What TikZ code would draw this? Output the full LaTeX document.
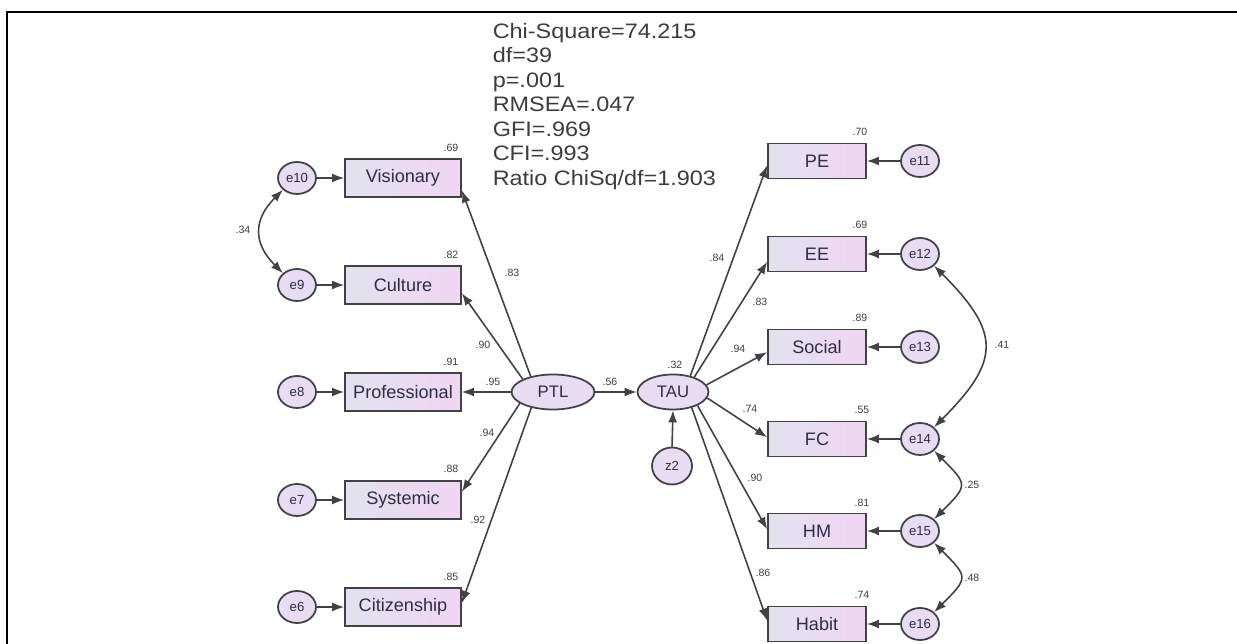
\documentclass[tikz,border=0pt]{standalone}
\usepackage{fontspec}
\setmainfont{Liberation Sans}
\usetikzlibrary{arrows.meta,positioning,shapes.geometric}
\definecolor{linegray}{RGB}{65,65,70}
\definecolor{boxleft}{RGB}{226,226,238}
\definecolor{boxright}{RGB}{240,214,242}
\definecolor{ovalfill}{RGB}{232,220,242}
\definecolor{txtdark}{RGB}{45,45,70}
\definecolor{statgray}{RGB}{60,60,60}
\newcommand\Tiny{\fontsize{6}{7}\selectfont}

\begin{document}
\begin{tikzpicture}[x=0.02cm,y=0.02cm,>={Latex[length=2.4mm,width=1.8mm]},line width=0.9pt,color=linegray]%
\useasboundingbox (0,0) rectangle (1237,-644);
\draw[black,line width=1.2pt] (7,-644)--(7,-12)--(1237,-12);
% observed variables, left
\begin{scope}[shape=rectangle]%
\tikzstyle{every node}=[draw,line width=1pt,left color=boxleft,right color=boxright,text=txtdark,minimum width=2.32cm,minimum height=0.76cm,font=\fontsize{10.3}{12}\selectfont] %%
\node (vis) at (403,-178)  {Visionary}; %%
\node (cul) at (403,-285)  {Culture}; %%
\node (pro) at (403,-392)  {Professional}; %%
\node (sys) at (403,-500)  {Systemic}; %%
\node (cit) at (403,-607)  {Citizenship}; %%
\end{scope}
% observed variables, right
\begin{scope}[shape=rectangle]%
\tikzstyle{every node}=[draw,line width=1pt,left color=boxleft,right color=boxright,text=txtdark,minimum width=1.96cm,minimum height=0.70cm,font=\fontsize{10.3}{12}\selectfont] %%
\node (pe) at (817,-161)  {PE}; %%
\node (ee) at (817,-254)  {EE}; %%
\node (soc) at (817,-347)  {Social}; %%
\node (fc) at (817,-439)  {FC}; %%
\node (hm) at (817,-531)  {HM}; %%
\node (hab) at (817,-624)  {Habit}; %%
\end{scope}
% error terms
\begin{scope}[shape=ellipse]%
\tikzstyle{every node}=[draw,line width=1pt,fill=ovalfill,text=txtdark,inner sep=0pt,minimum width=0.76cm,minimum height=0.64cm,font=\fontsize{7.5}{8}\selectfont] %%
\node (e10) at (297,-178)  {e10}; %%
\node (e9) at (297,-285)  {e9}; %%
\node (e8) at (297,-392)  {e8}; %%
\node (e7) at (297,-500)  {e7}; %%
\node (e6) at (297,-607)  {e6}; %%
\node (e11) at (920,-161)  {e11}; %%
\node (e12) at (920,-254)  {e12}; %%
\node (e13) at (920,-347)  {e13}; %%
\node (e14) at (920,-439)  {e14}; %%
\node (e15) at (920,-531)  {e15}; %%
\node (e16) at (920,-624)  {e16}; %%
\node[minimum width=0.80cm,minimum height=0.74cm] (z2) at (672,-466)  {z2}; %%
\end{scope}
% latent variables
\begin{scope}[shape=ellipse]%
\tikzstyle{every node}=[draw,line width=1pt,fill=ovalfill,text=txtdark,inner sep=0pt,minimum height=0.70cm,font=\fontsize{9.5}{10}\selectfont] %%
\node[minimum width=1.66cm] (PTL) at (553,-392)  {PTL}; %%
\node[minimum width=1.42cm] (TAU) at (673,-392)  {TAU}; %%
\end{scope}
% fit indices
\node[anchor=north west,inner sep=0pt,text=statgray,font=\fontsize{11.9}{14}\selectfont] (fit) at (492,-20) {\scalebox{1.12}[1]{\begin{tabular}{@{}l@{}}Chi-Square=74.215\\df=39\\p=.001\\RMSEA=.047\\GFI=.969\\CFI=.993\\Ratio ChiSq/df=1.903\end{tabular}}};%
% estimates
\begin{scope}[font=\Tiny,text=statgray]%
\node (r2vis) at (451,-148) {.69};%
\node (r2cul) at (451,-255) {.82};%
\node (r2pro) at (451,-362) {.91};%
\node (r2sys) at (451,-469) {.88};%
\node (r2cit) at (451,-577) {.85};%
\node (wvis) at (512,-273) {.83};%
\node (wcul) at (483,-345) {.90};%
\node (wpro) at (493,-382) {.95};%
\node (wsys) at (487,-433) {.94};%
\node (wcit) at (478,-520) {.92};%
\node (c34) at (243,-230) {.34};%
\node (w56) at (610,-382) {.56};%
\node (r2tau) at (675,-365) {.32};%
\node (r2pe) at (860,-132) {.70};%
\node (r2ee) at (860,-225) {.69};%
\node (r2soc) at (860,-318) {.89};%
\node (r2fc) at (862,-410) {.55};%
\node (r2hm) at (862,-503) {.81};%
\node (r2hab) at (862,-595) {.74};%
\node (wpe) at (717,-258) {.84};%
\node (wee) at (760,-302) {.83};%
\node (wsoc) at (738,-349) {.94};%
\node (wfc) at (750,-409) {.74};%
\node (whm) at (755,-478) {.90};%
\node (whab) at (763,-573) {.86};%
\node (c41) at (1002,-345) {.41};%
\node (c25) at (972,-485) {.25};%
\node (c48) at (972,-578) {.48};%
\end{scope}
\draw[->] (PTL.145)--(vis.-12); %%
\draw[->] (PTL.157)--(cul.-8); %%
\draw[->] (PTL.west)--(pro.east); %%
\draw[->] (PTL.199)--(sys.8); %%
\draw[->] (PTL.216)--(cit.4); %%
\draw[->] (PTL.east)--(TAU.west); %%
\draw[->] (z2.north)--(TAU.south); %%

\draw[->] (TAU.43)--(pe.185); %%
\draw[->] (TAU.35)--(ee.189); %%
\draw[->] (TAU.12)--(soc.186); %%
\draw[->] (TAU.-10)--(fc.178); %%
\draw[->] (TAU.-29)--(hm.178); %%
\draw[->] (TAU.-40)--(hab.176); %%

\draw[->] (e10)--(vis); %%
\draw[->] (e9)--(cul); %%
\draw[->] (e8)--(pro); %%
\draw[->] (e7)--(sys); %%
\draw[->] (e6)--(cit); %%
\draw[->] (e11)--(pe); %%
\draw[->] (e12)--(ee); %%
\draw[->] (e13)--(soc); %%
\draw[->] (e14)--(fc); %%
\draw[->] (e15)--(hm); %%
\draw[->] (e16)--(hab); %%

\draw[<->] (e10.220) to[out=225,in=135,looseness=1.3] (e9.140); %%
\draw[<->] (e12.-40) to[out=-45,in=45,looseness=1.5] (e14.40); %%
\draw[<->] (e14.-40) to[out=-45,in=45,looseness=1.8] (e15.40); %%
\draw[<->] (e15.-40) to[out=-45,in=45,looseness=1.8] (e16.40); %%
\end{tikzpicture}
\end{document}
